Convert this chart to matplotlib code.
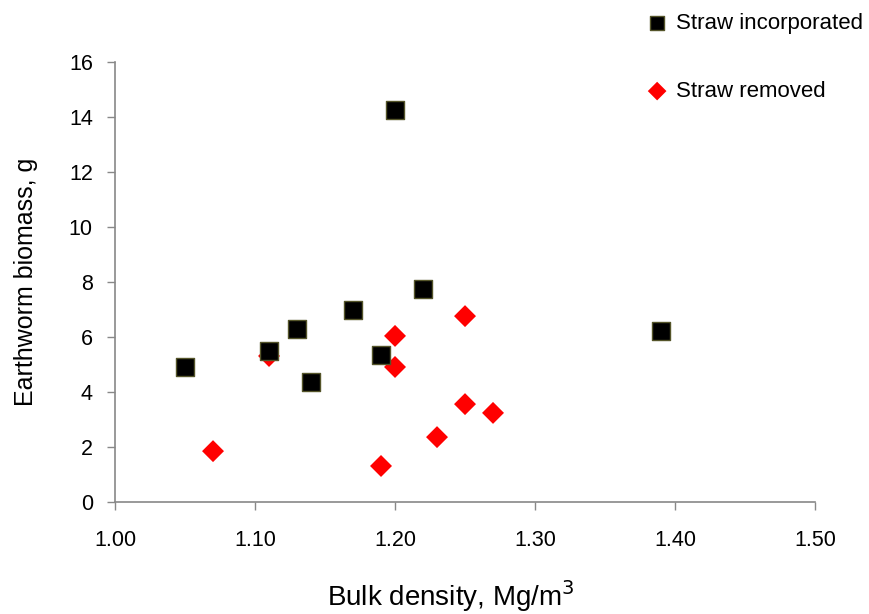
import matplotlib.pyplot as plt

# bulk density (Mg/m3) vs earthworm biomass (g)
incorp_density = [1.05, 1.11, 1.13, 1.14, 1.17, 1.19, 1.20, 1.22, 1.39]
incorp_biomass = [4.92, 5.50, 6.28, 4.38, 7.00, 5.35, 14.25, 7.75, 6.22]

removed_density = [1.07, 1.11, 1.19, 1.20, 1.20, 1.23, 1.25, 1.25, 1.27]
removed_biomass = [1.85, 5.31, 1.31, 6.04, 4.91, 2.36, 6.76, 3.56, 3.24]

x_ticks = [1.00, 1.10, 1.20, 1.30, 1.40, 1.50]
y_ticks = [0, 2, 4, 6, 8, 10, 12, 14, 16]

plt.rcParams['font.family'] = ['Liberation Sans', 'DejaVu Sans']

fig = plt.figure(figsize=(8.7, 6.14), dpi=100)
ax = fig.add_axes([0.1322, 0.1824, 0.8046, 0.7166])

ax.scatter(removed_density, removed_biomass, marker='D', s=125, color='#ff0000',
           edgecolors='none', label='Straw removed', zorder=3)
ax.scatter(incorp_density, incorp_biomass, marker='s', s=150, color='black',
           edgecolors='#55552a', linewidths=1.0, label='Straw incorporated', zorder=4)

ax.set_xlim(1.0, 1.5)
ax.set_ylim(0, 16)
ax.set_xticks(x_ticks)
ax.set_xticklabels([f'{v:.2f}' for v in x_ticks])
ax.set_yticks(y_ticks)
ax.tick_params(direction='out', length=6, width=1, colors='#888888',
               labelcolor='black', labelsize=15.5)
ax.tick_params(axis='y', pad=10)
ax.tick_params(axis='x', pad=14)

for side in ['top', 'right']:
    ax.spines[side].set_visible(False)
for side in ['left', 'bottom']:
    ax.spines[side].set_color('#888888')
    ax.spines[side].set_linewidth(1.2)

ax.set_xlabel('Bulk density, Mg/m$^3$', fontsize=20)
ax.xaxis.set_label_coords(0.479, -0.172)
ax.set_ylabel('Earthworm biomass, g', fontsize=18, labelpad=22)

handles, labels = ax.get_legend_handles_labels()
fig.legend(handles[::-1], labels[::-1], loc='upper left',
           bbox_to_anchor=(0.717, 1.011), frameon=False, fontsize=16,
           labelspacing=2.1, handlelength=1.2, handletextpad=0.25,
           scatterpoints=1, markerscale=0.85)

fig.savefig('out.png', dpi=100)
